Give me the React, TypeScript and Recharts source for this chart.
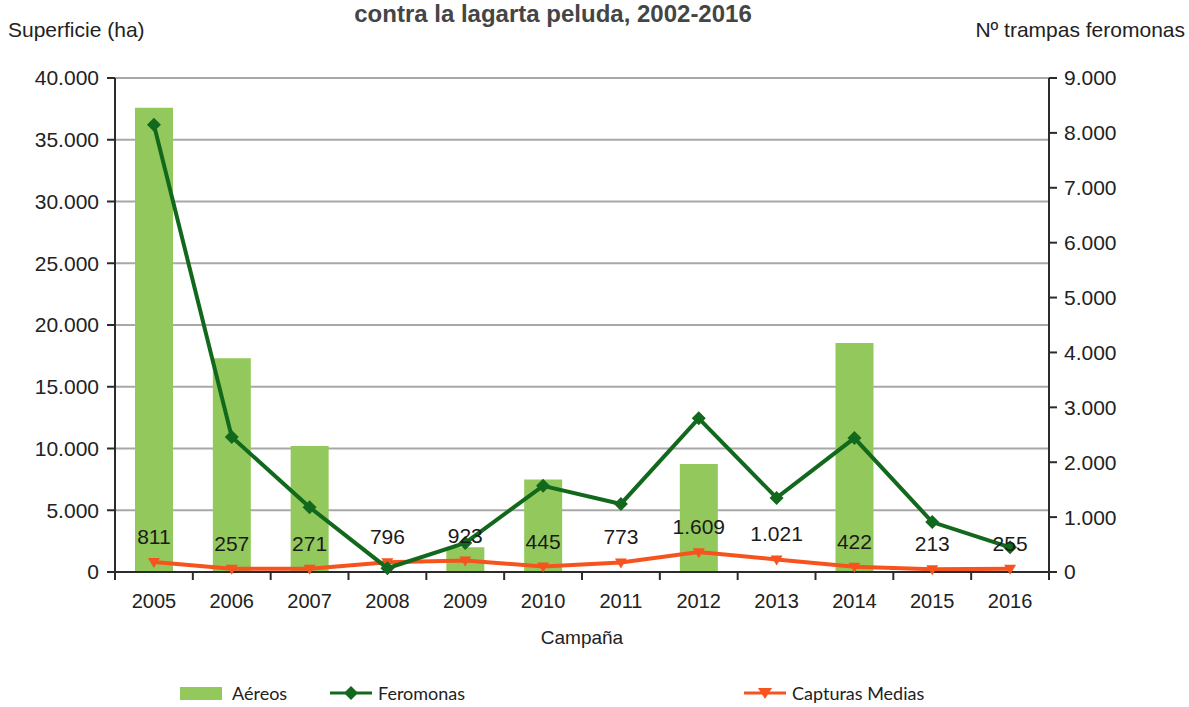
import { ComposedChart, Bar, Line, XAxis, YAxis, CartesianGrid, LabelList } from "recharts"

const YEARS = ["2005", "2006", "2007", "2008", "2009", "2010", "2011", "2012", "2013", "2014", "2015", "2016"]
// superficie tratada por medios aéreos (ha), eje izquierdo
const AEREOS = [37600, 17300, 10200, 0, 2000, 7500, 0, 8750, 0, 18550, 0, 0]
// nº trampas feromonas, eje derecho
const FEROMONAS = [8150, 2460, 1180, 70, 530, 1570, 1240, 2800, 1350, 2440, 910, 450]
// capturas medias, eje izquierdo
const CAPTURAS = [811, 257, 271, 796, 923, 445, 773, 1609, 1021, 422, 213, 255]

const LEFT_TICKS = [0, 5000, 10000, 15000, 20000, 25000, 30000, 35000, 40000]
const RIGHT_TICKS = [0, 1000, 2000, 3000, 4000, 5000, 6000, 7000, 8000, 9000]

const data = YEARS.map((y, i) => ({
  year: y,
  aereos: AEREOS[i],
  feromonas: FEROMONAS[i],
  capturas: CAPTURAS[i],
}))

const W = 1189
const H = 707
const LEFT_W = 115
const RIGHT_W = 140
const TOP = 78
const BOTTOM = 135
const BAND = (W - LEFT_W - RIGHT_W) / YEARS.length

const FONT = "'Liberation Sans', Arial, sans-serif"
const AXIS = "#2b2b2b"
const BAR = "#93c95c"
const GREEN = "#12691d"
const RED = "#f6531f"

const fmt = (v: number) => String(v).replace(/\B(?=(\d{3})+(?!\d))/g, ".")

function XTick(props: any) {
  const { x, y, payload, index } = props
  const axisY = y - 8
  const left = x - BAND / 2
  return (
    <g>
      <line x1={left} y1={axisY} x2={left} y2={axisY + 8} stroke={AXIS} strokeWidth={2} />
      {index === YEARS.length - 1 && (
        <line x1={x + BAND / 2} y1={axisY} x2={x + BAND / 2} y2={axisY + 8} stroke={AXIS} strokeWidth={2} />
      )}
      <text x={x} y={axisY + 36} textAnchor="middle" fontFamily={FONT} fontSize={20} fill="#222">
        {payload.value}
      </text>
    </g>
  )
}

function Diamond(props: any) {
  const { cx, cy } = props
  if (cx == null || cy == null) return <g />
  const r = 7
  return <polygon points={`${cx},${cy - r} ${cx + r},${cy} ${cx},${cy + r} ${cx - r},${cy}`} fill={GREEN} />
}

function Triangle(props: any) {
  const { cx, cy } = props
  if (cx == null || cy == null) return <g />
  return <polygon points={`${cx - 6},${cy - 4} ${cx + 6},${cy - 4} ${cx},${cy + 6}`} fill={RED} />
}

export default function App() {
  return (
    <div style={{ position: "absolute", left: 0, top: 0, width: W, height: H, background: "#fff", overflow: "hidden" }}>
      <ComposedChart
        width={W}
        height={H}
        data={data}
        margin={{ top: TOP, right: 0, left: 0, bottom: 0 }}
        barSize={38}
      >
        <CartesianGrid yAxisId="left" vertical={false} stroke="#a8a8a8" strokeWidth={2} />
        <XAxis
          dataKey="year"
          height={BOTTOM}
          axisLine={{ stroke: AXIS, strokeWidth: 2 }}
          tickLine={false}
          tick={<XTick />}
          interval={0}
        />
        <YAxis
          yAxisId="left"
          width={LEFT_W}
          domain={[0, 40000]}
          ticks={LEFT_TICKS}
          tickFormatter={fmt}
          tickSize={8}
          tickMargin={8}
          axisLine={{ stroke: AXIS, strokeWidth: 2 }}
          tickLine={{ stroke: AXIS, strokeWidth: 2 }}
          tick={{ fill: "#222", fontSize: 21, fontFamily: FONT }}
        />
        <YAxis
          yAxisId="right"
          orientation="right"
          width={RIGHT_W}
          domain={[0, 9000]}
          ticks={RIGHT_TICKS}
          tickFormatter={fmt}
          tickSize={8}
          tickMargin={7}
          axisLine={{ stroke: AXIS, strokeWidth: 2 }}
          tickLine={{ stroke: AXIS, strokeWidth: 2 }}
          tick={{ fill: "#222", fontSize: 21, fontFamily: FONT }}
        />
        <Bar yAxisId="left" dataKey="aereos" fill={BAR} isAnimationActive={false} />
        <Line
          yAxisId="left"
          dataKey="capturas"
          stroke={RED}
          strokeWidth={4}
          dot={<Triangle />}
          activeDot={false}
          isAnimationActive={false}
        >
          <LabelList
            dataKey="capturas"
            position="top"
            offset={18}
            formatter={(v: any) => fmt(Number(v))}
            fill="#1a1a1a"
            fontSize={21}
            fontFamily={FONT}
          />
        </Line>
        <Line
          yAxisId="right"
          dataKey="feromonas"
          stroke={GREEN}
          strokeWidth={4}
          dot={<Diamond />}
          activeDot={false}
          isAnimationActive={false}
        />
      </ComposedChart>

      <div style={{ position: "absolute", left: 0, top: 2, width: 1106, textAlign: "center", fontFamily: FONT, fontWeight: 700, fontSize: 24, lineHeight: 1, color: "#454545" }}>
        contra la lagarta peluda, 2002-2016
      </div>
      <div style={{ position: "absolute", left: 8, top: 18, fontFamily: FONT, fontSize: 21, color: "#222" }}>
        Superficie (ha)
      </div>
      <div style={{ position: "absolute", right: 4, top: 18, fontFamily: FONT, fontSize: 21, color: "#222" }}>
        Nº trampas feromonas
      </div>
      <div style={{ position: "absolute", left: 0, top: 627, width: W - LEFT_W - RIGHT_W, marginLeft: LEFT_W, textAlign: "center", fontFamily: FONT, fontSize: 19, color: "#222" }}>
        Campaña
      </div>

      {/* leyenda */}
      <svg style={{ position: "absolute", left: 0, top: 680 }} width={W} height={27}>
        <rect x={180} y={7} width={42} height={13} fill={BAR} />
        <text x={232} y={20} fontFamily="Lato, sans-serif" fontSize={18} fill="#222">Aéreos</text>
        <line x1={330} y1={13} x2={372} y2={13} stroke={GREEN} strokeWidth={3} />
        <polygon points="351,6 358,13 351,20 344,13" fill={GREEN} />
        <text x={378} y={20} fontFamily="Lato, sans-serif" fontSize={18} fill="#222">Feromonas</text>
        <line x1={744} y1={13} x2={786} y2={13} stroke={RED} strokeWidth={3} />
        <polygon points="758,8 772,8 765,19" fill={RED} />
        <text x={792} y={20} fontFamily="Lato, sans-serif" fontSize={18} fill="#222">Capturas Medias</text>
      </svg>
    </div>
  )
}
